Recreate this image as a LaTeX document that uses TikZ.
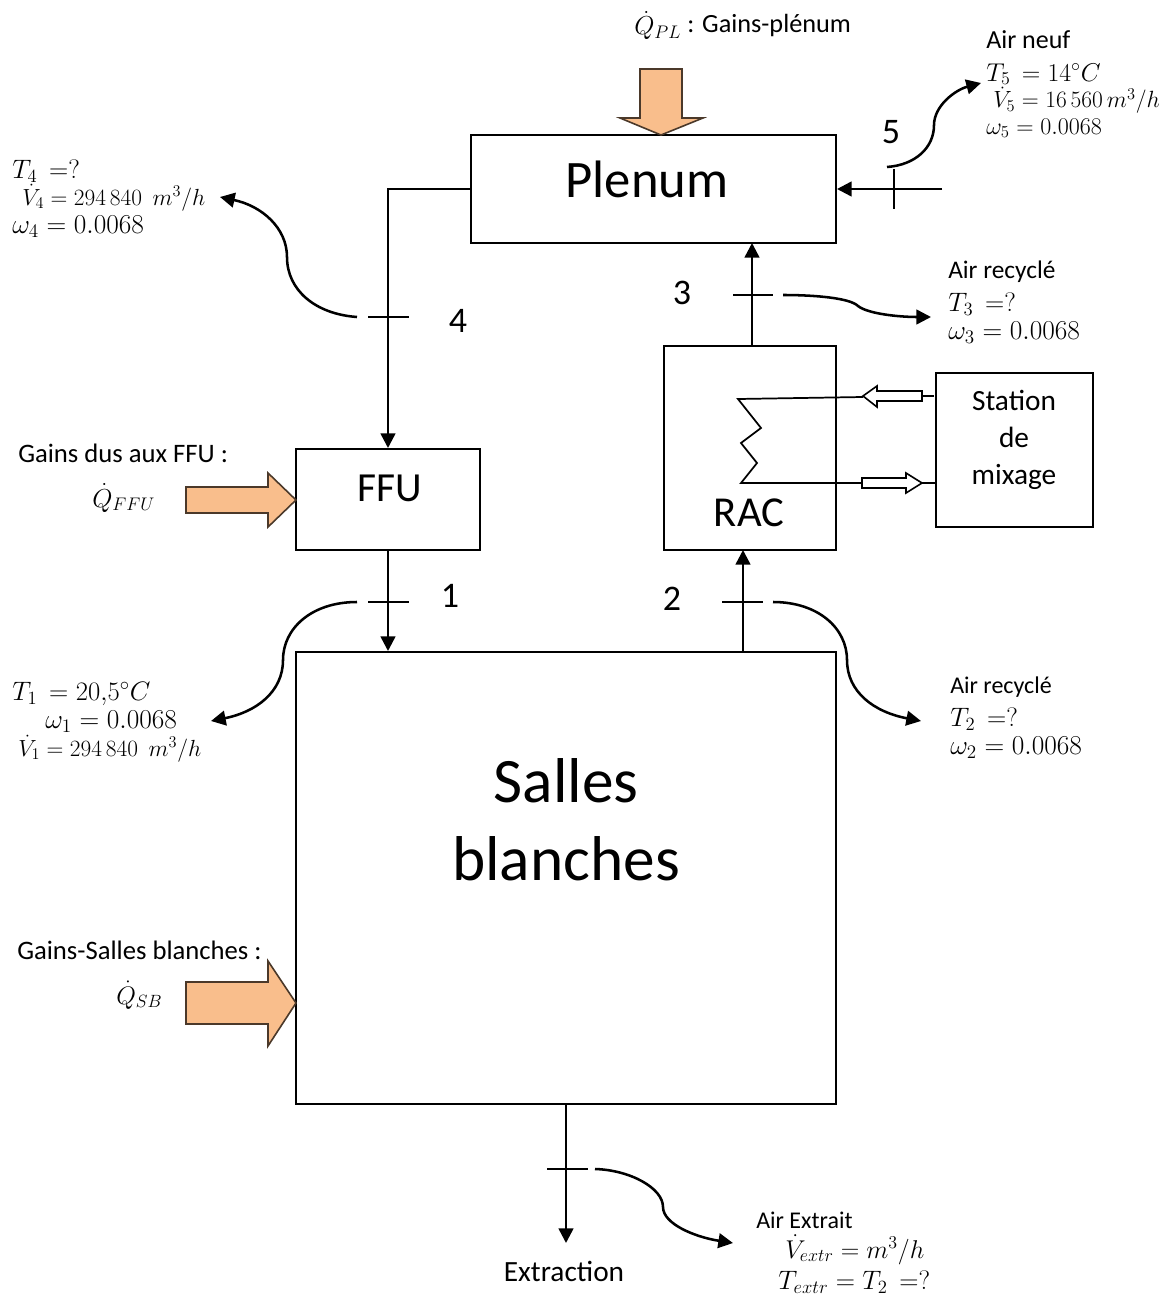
\documentclass[tikz,border=0pt]{standalone}
\usepackage{fix-cm}
\usepackage{fontspec}
\setmainfont{Carlito}
\usetikzlibrary{arrows.meta}
\definecolor{gainorange}{HTML}{F9BE8C}
\def\fs#1{\fontsize{#1}{#1}\selectfont}
\tikzset{
	box/.style={draw, line width=1.5pt, inner sep=0pt},
	flow/.style={line width=1.9pt, -{Triangle[length=11pt,width=11pt]}},
	curl/.style={line width=1.9pt, -{Triangle[length=11pt,width=11pt]}},
	tickline/.style={line width=1.3pt},
	gain/.style={draw=black!70!gainorange, line width=1.2pt, fill=gainorange},
	hollow/.style={draw, line width=1.2pt, fill=white},
	coil/.style={line width=1.3pt},
	lbl/.style={anchor=base west, inner sep=0pt},
	num/.style={anchor=base, inner sep=0pt, font=\fs{27}},
}

\begin{document}
\begin{tikzpicture}[x=0.75pt, y=-0.75pt]
	%%%%% FRAME %%%%%
	\useasboundingbox (0, 0) rectangle (1167, 1295);

	%%%%% BOXES %%%%%
	\node[box, minimum width=273.75pt, minimum height=81pt] (plenum) at (653.5, 189) {};
	\node[box, minimum width=138pt, minimum height=75.75pt] (ffu) at (388, 499.5) {};
	\node[box, minimum width=129pt, minimum height=153pt] (rac) at (750, 448) {};
	\node[box, minimum width=117.75pt, minimum height=115.5pt] (station) at (1014.5, 449.5) {};
	\node[box, minimum width=405pt, minimum height=339pt] (salles) at (566, 878) {};

	\node[inner sep=0pt, font=\fs{39.5}] (plenumtxt) at (647, 179) {Plenum};
	\node[inner sep=0pt, font=\fs{31}] (ffutxt) at (390, 488) {FFU};
	\node[inner sep=0pt, font=\fs{32}] (ractxt) at (749, 513) {RAC};
	\node[inner sep=0pt, font=\fs{22}, align=center] (stationtxt) at (1014, 440) {Station\\[6pt]de\\[6pt]mixage};
	\node[inner sep=0pt, font=\fs{47.5}, align=center] (sallestxt) at (566, 820) {Salles\\[11pt]blanches};

	%%%%% GAINS %%%%%
	\draw[gain] (640, 69) -- (682, 69) -- (682, 118) -- (703, 118) -- (661, 135) -- (620, 118) -- (640, 118) -- cycle;
	\draw[gain] (186, 487) -- (268, 487) -- (268, 473) -- (296, 500) -- (268, 527) -- (268, 513) -- (186, 513) -- cycle;
	\draw[gain] (186, 982) -- (268, 982) -- (268, 961) -- (296, 1003) -- (268, 1046) -- (268, 1024) -- (186, 1024) -- cycle;

	%%%%% FLOWS %%%%%
	\coordinate (in5) at (942, 189);
	\coordinate (extr) at (566, 1243);
	\draw[flow] (plenum.west) -| (ffu.north);
	\draw[flow] (ffu.south) -- (ffu.south |- salles.north);
	\draw[flow] (743, 652) -- (743, 550);
	\draw[flow] (752, 346) -- (752, 243);
	\draw[flow] (in5) -- (plenum.east);
	\draw[flow] (salles.south) -- (extr);

	%%%%% TICKS %%%%%
	\draw[tickline] (368, 602) -- (409, 602);
	\draw[tickline] (368, 317) -- (409, 317);
	\draw[tickline] (733, 295) -- (773, 295);
	\draw[tickline] (722, 602) -- (763, 602);
	\draw[tickline] (547, 1169) -- (588, 1169);
	\draw[tickline] (894, 169) -- (894, 209);

	%%%%% CURLS %%%%%
	\draw[curl] (357, 602) .. controls (312, 602) and (283, 628) .. (283, 660) .. controls (283, 692) and (256, 712) .. (211, 721);
	\draw[curl] (357, 317) .. controls (315, 314) and (287, 290) .. (287, 257) .. controls (287, 228) and (262, 206) .. (220, 197);
	\draw[curl] (783, 295) .. controls (815, 295) and (850, 298) .. (858, 306) .. controls (868, 314) and (900, 317) .. (931, 317);
	\draw[curl] (773, 602) .. controls (818, 602) and (847, 628) .. (847, 660) .. controls (847, 692) and (874, 712) .. (921, 721);
	\draw[curl] (595, 1169) .. controls (630, 1170) and (663, 1188) .. (663, 1207) .. controls (663, 1224) and (695, 1237) .. (733, 1243);
	\draw[curl] (887, 167) .. controls (915, 165) and (934, 148) .. (934, 125) .. controls (934, 106) and (955, 90) .. (981, 83);

	%%%%% COIL %%%%%
	\draw[coil] (934, 396) -- (922, 396);
	\draw[coil] (863, 397) -- (738, 399) -- (761, 428) -- (741, 443) -- (757, 463) -- (741, 483) -- (936, 483);
	\draw[hollow] (922, 391) -- (877, 391) -- (877, 386) -- (863, 396) -- (877, 407) -- (877, 401) -- (922, 401) -- cycle;
	\draw[hollow] (862, 478) -- (906, 478) -- (906, 473) -- (922, 483) -- (906, 493) -- (906, 488) -- (862, 488) -- cycle;

	%%%%% NUMBERS %%%%%
	\node[num] (num1) at (450, 607) {1};
	\node[num] (num2) at (672, 610) {2};
	\node[num] (num3) at (682, 304) {3};
	\node[num] (num4) at (458, 332) {4};
	\node[num] (num5) at (891, 143) {5};

	%%%%% PLENUM TEXTS %%%%%
	\node[lbl, font=\fs{19.5}] (qpl) at (634, 35) {$\dot{Q}_{PL}$};
	\node[lbl, font=\fs{19.7}] (qpltxt) at (687, 33) {: Gains-plénum};
	\node[lbl, font=\fs{19.5}] (air5) at (986, 49) {Air neuf};
	\node[lbl, font=\fs{19.3}] (t5) at (986, 81) {$T_5\,=14^\circ C$};
	\node[lbl, font=\fs{17.6}] (v5) at (993, 108) {$\dot{V}_5=16\,560\,m^3/h$};
	\node[lbl, font=\fs{18}] (w5) at (986, 134) {$\omega_5=0.0068$};
	\node[lbl, font=\fs{19}] (air3) at (948, 278) {Air recyclé};
	\node[lbl, font=\fs{20}] (t3) at (948, 311) {$T_3\,=?$};
	\node[lbl, font=\fs{20.5}] (w3) at (948, 339) {$\omega_3=0.0068$};
	\node[lbl, font=\fs{20}] (t4) at (12, 178) {$T_4\,=?$};
	\node[lbl, font=\fs{17.5}] (v4) at (22, 205) {$\dot{V}_4=294\,840~~m^3/h$};
	\node[lbl, font=\fs{20.5}] (w4) at (12, 233) {$\omega_4=0.0068$};

	%%%%% ROOM TEXTS %%%%%
	\node[lbl, font=\fs{20}] (gffu) at (18, 462) {Gains dus aux FFU :};
	\node[lbl, font=\fs{19.5}] (qffu) at (92, 507) {$\dot{Q}_{FFU}$};
	\node[lbl, font=\fs{20}] (t1) at (12, 700) {$T_1\,=20{,}5^\circ C$};
	\node[lbl, font=\fs{20.5}] (w1) at (45, 728) {$\omega_1=0.0068$};
	\node[lbl, font=\fs{17.5}] (v1) at (18, 756) {$\dot{V}_1=294\,840~~m^3/h$};
	\node[lbl, font=\fs{18}] (air2) at (950, 693) {Air recyclé};
	\node[lbl, font=\fs{20}] (t2) at (950, 726) {$T_2\,=?$};
	\node[lbl, font=\fs{20.5}] (w2) at (950, 754) {$\omega_2=0.0068$};
	\node[lbl, font=\fs{20}] (gsb) at (17, 959) {Gains-Salles blanches :};
	\node[lbl, font=\fs{19}] (qsb) at (116, 1004) {$\dot{Q}_{SB}$};

	%%%%% EXTRACTION TEXTS %%%%%
	\node[anchor=base, inner sep=0pt, font=\fs{22}] (extrtxt) at (564, 1281) {Extraction};
	\node[lbl, font=\fs{18}] (airex) at (756, 1228) {Air Extrait};
	\node[lbl, font=\fs{19.3}] (vex) at (785, 1258) {$\dot{V}_{extr}=m^3/h$};
	\node[lbl, font=\fs{20}] (tex) at (778, 1289) {$T_{extr}=T_2\,=?$};
\end{tikzpicture}
\end{document}
